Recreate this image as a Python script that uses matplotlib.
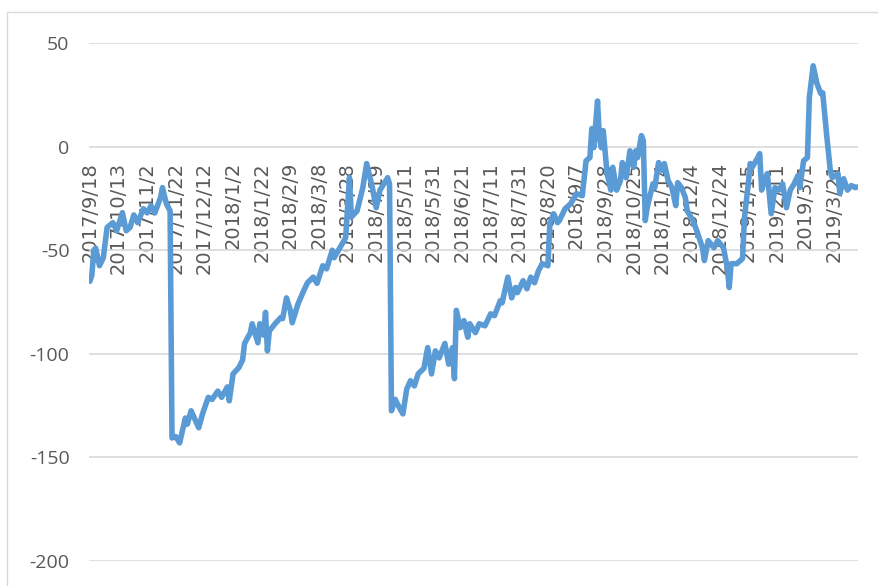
import matplotlib
matplotlib.use("Agg")
import matplotlib.pyplot as plt
from matplotlib.patches import Rectangle

# Trading-day positions (0 = 2017/9/18) and the series values at those days
day_idx = [
    0, 1, 2, 3, 5, 7, 9, 12, 14, 17, 19, 21, 23, 25, 28, 30, 32, 34, 37, 38,
    40, 42, 43, 45, 47, 50, 51, 53, 57, 59, 62, 64, 67, 69, 72, 73, 75, 78, 80, 81,
    84, 85, 88, 89, 91, 92, 93, 94, 97, 100, 101, 103, 105, 106, 109, 112, 114, 117, 119, 122,
    124, 127, 128, 131, 134, 136, 137, 140, 143, 145, 148, 150, 152, 154, 156, 157, 158, 160, 161, 164,
    166, 168, 170, 172, 175, 177, 179, 181, 183, 186, 188, 190, 191, 192, 194, 196, 198, 199, 202, 204,
    207, 210, 212, 215, 216, 219, 221, 223, 224, 227, 229, 231, 233, 235, 237, 240, 241, 243, 245, 246,
    249, 252, 255, 258, 260, 262, 263, 264, 266, 267, 268, 269, 271, 273, 274, 276, 278, 279, 281, 283,
    285, 286, 287, 289, 290, 291, 292, 295, 296, 298, 300, 301, 303, 305, 307, 308, 310, 312, 313, 316,
    318, 321, 322, 324, 327, 329, 332, 334, 335, 336, 339, 342, 343, 345, 346, 347, 350, 351, 352, 354,
    355, 357, 359, 361, 363, 365, 367, 369, 371, 372, 374, 376, 377, 379, 381, 383, 384, 386, 388, 389,
    392, 393, 395, 397, 399, 401, 402,
]
values = [
    -65, -62, -50, -49, -57.5, -53.6, -39, -36.7, -40.6, -31.9, -40.6, -39, -33, -36.7, -30, -32, -28.5, -32, -24.6, -19.8,
    -27.5, -31, -140.6, -140, -143, -131, -134, -127.5, -135.7, -129, -121, -122, -118, -121, -116, -122.7, -109.7, -106.7, -103, -95,
    -90, -85.5, -94.7, -85.5, -91, -80, -98.6, -89, -85.5, -82.5, -83, -73, -79, -85, -76, -69.6, -65.7, -63, -66, -57.5,
    -59, -50, -53.6, -48.8, -44, -15, -34, -31, -19.8, -8.2, -19.8, -29.5, -21, -18, -15, -18, -127.5, -122, -124, -129,
    -117, -113, -115.5, -109.7, -107, -97, -109.7, -98.6, -102, -95, -105, -97, -112, -79, -87.4, -84, -92, -85.5, -89.8, -85.5,
    -86.5, -80.7, -81.6, -74.4, -75.4, -63, -73, -68, -70.5, -64.7, -68.6, -63, -65.7, -60, -56.5, -57.5, -37, -32.4, -36.7, -35.7,
    -30, -27.5, -22.7, -23.7, -6.8, -5.3, 8.7, -0.5, 22, 3.9, -0.5, 7.7, -13, -21, -10, -21, -16.4, -7.7, -15, -2,
    -10, -2, -5.3, 5.3, 2.9, -35.7, -29.5, -18, -19.8, -7.7, -11.6, -8.2, -16.4, -19.8, -28.5, -17.4, -19.8, -24.6, -31, -35.7,
    -40.6, -48.8, -55, -45.4, -48.8, -45.4, -48.8, -58.5, -68, -56.5, -56.5, -54, -34.3, -18, -8.2, -10, -5.3, -3.4, -21, -15,
    -13, -32.4, -19.8, -21, -18, -29.5, -21, -18, -14, -19.8, -6.8, -5.3, 23.7, 39, 30.4, 25.6, 26, 6.3, -11.6, -15,
    -13, -22.7, -15.5, -21, -18.8, -19.8, -19.5,
]

n_days = 403
tick_step = 15
tick_labels = [
    "2017/9/18", "2017/10/13", "2017/11/2", "2017/11/22", "2017/12/12",
    "2018/1/2", "2018/1/22", "2018/2/9", "2018/3/8", "2018/3/28",
    "2018/4/19", "2018/5/11", "2018/5/31", "2018/6/21", "2018/7/11",
    "2018/7/31", "2018/8/20", "2018/9/7", "2018/9/28", "2018/10/25",
    "2018/11/14", "2018/12/4", "2018/12/24", "2019/1/15", "2019/2/11",
    "2019/3/1", "2019/3/21",
]
y_ticks = [-200, -150, -100, -50, 0, 50]

W, H = 879, 586
fig = plt.figure(figsize=(W / 100, H / 100), dpi=100)
fig.patch.set_facecolor("white")

# chart frame (continues past the right and bottom edges)
fig.patches.append(Rectangle((7 / W, -0.2), 1.2, 1 - 12 / H + 0.2,
                             transform=fig.transFigure, fill=False,
                             edgecolor="#d9d9d9", linewidth=1.0))

left, right, top, bottom = 89, 858, 43, 561
ax = fig.add_axes([left / W, 1 - bottom / H, (right - left) / W, (bottom - top) / H])
ax.set_facecolor("none")

ax.plot(day_idx, values, color="#5B9BD5", linewidth=4.0,
        solid_joinstyle="round", solid_capstyle="round", zorder=3)

ax.set_xlim(-0.5, n_days - 0.5)
ax.set_ylim(-200, 50)

ax.set_yticks(y_ticks)
ax.set_yticklabels([str(v) for v in y_ticks])
ax.grid(axis="y", color="#d9d9d9", linewidth=1.2, zorder=0)
ax.tick_params(axis="y", length=0, pad=14, labelsize=14, labelcolor="#595959")

# category axis crosses at zero, labels hang below it
ax.spines["bottom"].set_position(("data", 0))
for s in ["top", "right", "left", "bottom"]:
    ax.spines[s].set_visible(False)
ax.set_xticks([i * tick_step for i in range(len(tick_labels))])
ax.set_xticklabels(tick_labels, rotation=90)
ax.tick_params(axis="x", length=0, pad=11, labelsize=14, labelcolor="#595959")

for lbl in ax.get_yticklabels():
    lbl.set_fontfamily(["Open Sans", "DejaVu Sans"])
for lbl in ax.get_xticklabels():
    lbl.set_fontfamily(["DejaVu Sans"])

fig.savefig("out.png", dpi=100)
